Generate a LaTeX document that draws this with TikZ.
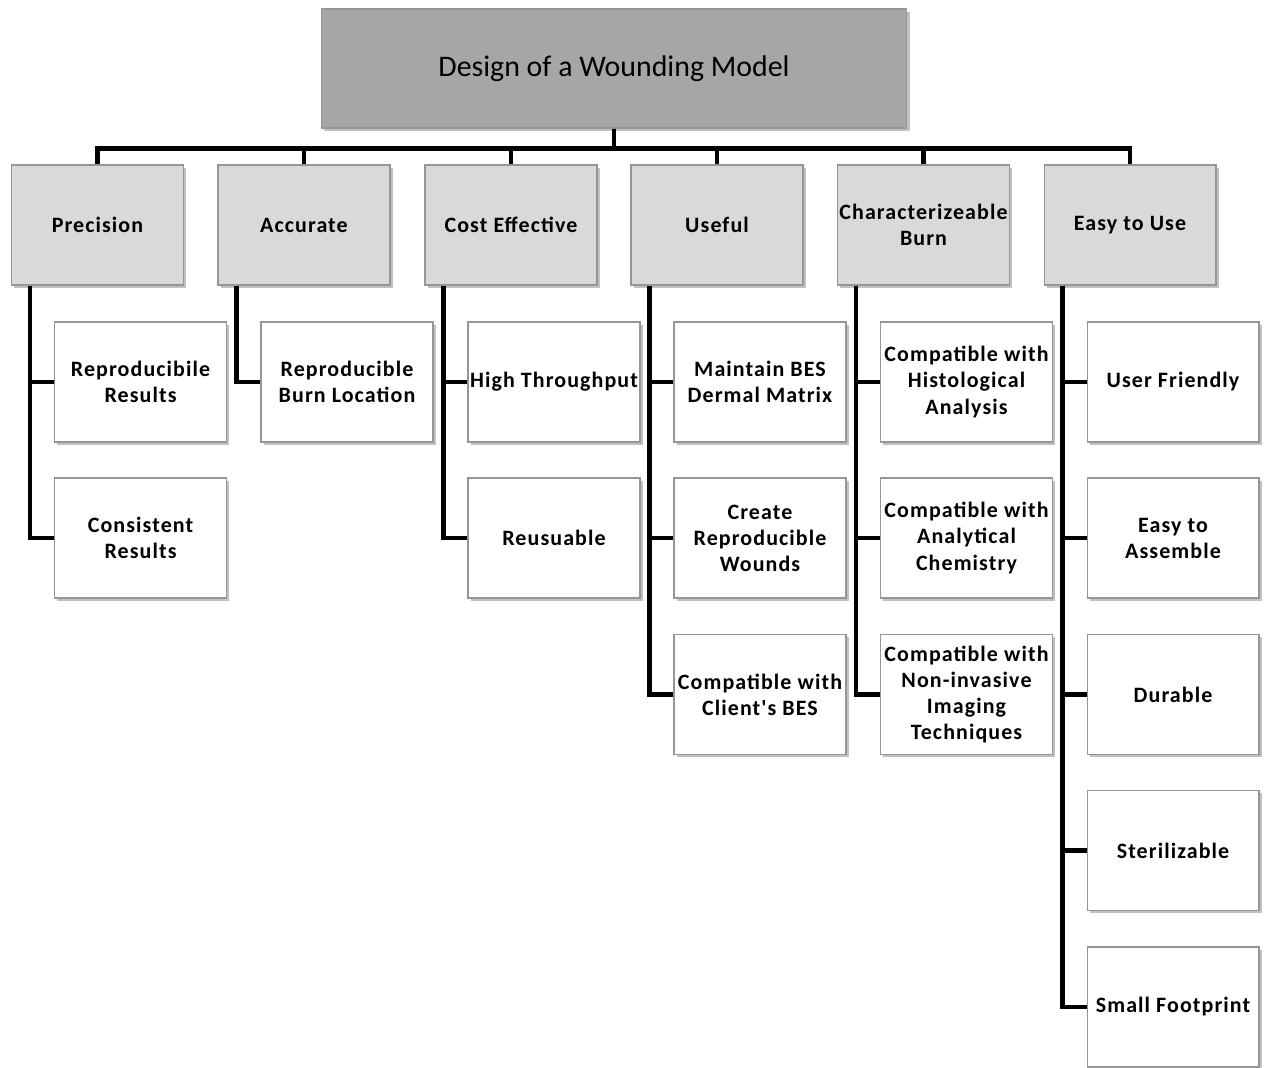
\documentclass[tikz,border=0pt]{standalone}
\usepackage{fontspec}
\setmainfont{Carlito}
\newfontfamily\boxfont{Carlito}[LetterSpace=5]
\usepackage{tikz}
\usetikzlibrary{positioning, shadows, calc}
\definecolor{topgray}{RGB}{166, 166, 166}
\definecolor{midgray}{RGB}{217, 217, 217}
\definecolor{edgegray}{RGB}{150, 150, 150}

\begin{document}
\begin{tikzpicture}[x=0.02cm, y=-0.02cm,
    box/.style={rectangle, draw=edgegray, line width=0.6pt, align=center,
      minimum width=3.44cm, minimum height=2.4cm, inner sep=1pt,
      font=\fontsize{12.5}{14.8}\selectfont\boxfont\bfseries,
      drop shadow={shadow xshift=1.5pt, shadow yshift=-1.5pt, opacity=0.35, fill=black!70}},
    goal/.style={box, fill=topgray, minimum width=11.72cm, minimum height=2.38cm,
      font=\fontsize{17}{20}\selectfont},
    crit/.style={box, fill=midgray},
    sub/.style={box, fill=white},
    link/.style={line width=2.3pt, line join=miter}]
  \useasboundingbox (0,0) rectangle (1268,1068);

  \node[goal] (top) at (614,68.5) {Design of a Wounding Model};

  \node[crit] (p1) at (97.5,225) {Precision};
  \node[crit] (p2) at (304,225)  {Accurate};
  \node[crit] (p3) at (511,225)  {Cost Effective};
  \node[crit] (p4) at (717,225)  {Useful};
  \node[crit] (p5) at (923.5,225){Characterizeable\\Burn};
  \node[crit] (p6) at (1130,225) {Easy to Use};

  % Precision
  \node[sub] (c11) at (140.5,382) {Reproducibile\\Results};
  \node[sub] (c12) at (140.5,538) {Consistent\\Results};
  % Accurate
  \node[sub] (c21) at (347,382) {Reproducible\\Burn Location};
  % Cost Effective
  \node[sub] (c31) at (554,382) {High Throughput};
  \node[sub] (c32) at (554,538) {Reusuable};
  % Useful
  \node[sub] (c41) at (760,382)   {Maintain BES\\Dermal Matrix};
  \node[sub] (c42) at (760,538)   {Create\\Reproducible\\Wounds};
  \node[sub] (c43) at (760,694.5) {Compatible with\\Client's BES};
  % Characterizeable Burn
  \node[sub] (c51) at (966.5,382)   {Compatible with\\Histological\\Analysis};
  \node[sub] (c52) at (966.5,538)   {Compatible with\\Analytical\\Chemistry};
  \node[sub] (c53) at (966.5,694.5) {Compatible with\\Non-invasive\\Imaging\\Techniques};
  % Easy to Use
  \node[sub] (c61) at (1173,382)    {User Friendly};
  \node[sub] (c62) at (1173,538)    {Easy to\\Assemble};
  \node[sub] (c63) at (1173,694.5)  {Durable};
  \node[sub] (c64) at (1173,850.5)  {Sterilizable};
  \node[sub] (c65) at (1173,1007)   {Small Footprint};

  % top bus
  \draw[link] (top.south) -- ++(0,20) -| (p1.north);
  \draw[link] (top.south) -- ++(0,20) -| (p2.north);
  \draw[link] (top.south) -- ++(0,20) -| (p3.north);
  \draw[link] (top.south) -- ++(0,20) -| (p4.north);
  \draw[link] (top.south) -- ++(0,20) -| (p5.north);
  \draw[link] (top.south) -- ++(0,20) -| (p6.north);

  % trunks
  \draw[link] (p1.south west) ++(19,0) |- (c11.west);
  \draw[link] (p1.south west) ++(19,0) |- (c12.west);
  \draw[link] (p2.south west) ++(19,0) |- (c21.west);
  \draw[link] (p3.south west) ++(19,0) |- (c31.west);
  \draw[link] (p3.south west) ++(19,0) |- (c32.west);
  \draw[link] (p4.south west) ++(19,0) |- (c41.west);
  \draw[link] (p4.south west) ++(19,0) |- (c42.west);
  \draw[link] (p4.south west) ++(19,0) |- (c43.west);
  \draw[link] (p5.south west) ++(19,0) |- (c51.west);
  \draw[link] (p5.south west) ++(19,0) |- (c52.west);
  \draw[link] (p5.south west) ++(19,0) |- (c53.west);
  \draw[link] (p6.south west) ++(19,0) |- (c61.west);
  \draw[link] (p6.south west) ++(19,0) |- (c62.west);
  \draw[link] (p6.south west) ++(19,0) |- (c63.west);
  \draw[link] (p6.south west) ++(19,0) |- (c64.west);
  \draw[link] (p6.south west) ++(19,0) |- (c65.west);
\end{tikzpicture}
\end{document}
